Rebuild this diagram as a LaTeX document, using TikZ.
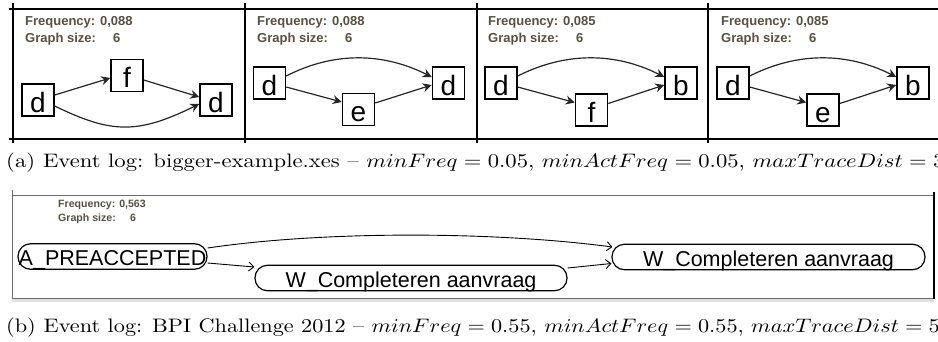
\RequirePackage{fix-cm}
\documentclass[tikz,border=0pt]{standalone}
\usepackage{fontspec}
\usetikzlibrary{arrows.meta,calc}
\newfontfamily\arialf{Liberation Sans}
\definecolor{infocol}{RGB}{88,80,66}
\definecolor{framegray}{RGB}{110,110,110}
\tikzset{
  actbox/.style={draw, line width=1.5, minimum width=32, minimum height=32, inner sep=0,
    text height=24, text depth=0, font=\arialf\fontsize{28}{28}\selectfont},
  conn/.style={draw=black!85, line width=1.2, -{Stealth[length=9, width=9, inset=3]}},
  infotxt/.style={anchor=base west, inner sep=0, text=infocol, font=\arialf\bfseries\fontsize{13}{13}\selectfont},
  sinfotxt/.style={anchor=base west, inner sep=0, text=infocol, font=\arialf\bfseries\fontsize{10.6}{11}\selectfont},
  pillbox/.style={draw, line width=1.2, rounded corners=12.5, minimum height=25.5, inner sep=0,
    text height=18, text depth=0, font=\arialf\fontsize{21.5}{22}\selectfont},
  bconn/.style={draw, line width=0.9, -{Straight Barb[length=5, width=9]}},
  captext/.style={anchor=base west, inner sep=0, font=\fontsize{10}{12}\selectfont},
  frameline/.style={line width=2}
}
\begin{document}
\begin{tikzpicture}[x=1pt,y=-1pt]
\useasboundingbox (0,0) rectangle (938,341);
\clip (0,0) rectangle (938,341);
% top frame
\draw[frameline] (9,9) -- (940,9);
\draw[frameline] (9,139) -- (940,139);
\foreach \xx in {13,245,477,708} {\draw[frameline] (\xx,3) -- (\xx,143);}
% panel 1
\node[infotxt] (f1) at (25,25) {Frequency: 0,088};
\node[infotxt] (g1) at (25,42) {Graph size:};
\node[infotxt] (n1) at (113,42) {6};
\node[actbox] (p1a) at (38,100) {d};
\node[actbox] (p1b) at (127,75.5) {f};
\node[actbox] (p1c) at (216,100) {d};
\draw[conn] ($(p1a.east)+(0,-5)$) -- ($(p1b.west)+(0,2.5)$);
\draw[conn] ($(p1b.east)+(0,4.5)$) -- ($(p1c.west)+(0,-3)$);
\draw[conn] ($(p1a.east)+(0,6)$) .. controls (112,134) and (138,134) .. ($(p1c.west)+(0,4)$);
% panel 2
\node[infotxt] (f2) at (257,25) {Frequency: 0,088};
\node[infotxt] (g2) at (257,42) {Graph size:};
\node[infotxt] (n2) at (345,42) {6};
\node[actbox] (p2a) at (269.5,83) {d};
\node[actbox] (p2b) at (358.5,109.5) {e};
\node[actbox] (p2c) at (448.5,83) {d};
\draw[conn] ($(p2a.east)+(0,4)$) -- ($(p2b.west)+(0,-7.5)$);
\draw[conn] ($(p2b.east)+(0,-6.5)$) -- ($(p2c.west)+(0,2)$);
\draw[conn] ($(p2a.east)+(0,-7)$) .. controls (333,52) and (382,52) .. ($(p2c.west)+(0,-6)$);
% panel 3
\node[infotxt] (f3) at (488,25) {Frequency: 0,085};
\node[infotxt] (g3) at (488,42) {Graph size:};
\node[infotxt] (n3) at (576,42) {6};
\node[actbox] (p3a) at (501,83) {d};
\node[actbox] (p3b) at (591.5,110) {f};
\node[actbox] (p3c) at (681,83) {b};
\draw[conn] ($(p3a.east)+(0,4)$) -- ($(p3b.west)+(0,-7.5)$);
\draw[conn] ($(p3b.east)+(0,-6.5)$) -- ($(p3c.west)+(0,2)$);
\draw[conn] ($(p3a.east)+(0,-7)$) .. controls (565,52) and (615,52) .. ($(p3c.west)+(0,-6)$);
% panel 4
\node[infotxt] (f4) at (721,25) {Frequency: 0,085};
\node[infotxt] (g4) at (721,42) {Graph size:};
\node[infotxt] (n4) at (809,42) {6};
\node[actbox] (p4a) at (733,83) {d};
\node[actbox] (p4b) at (823,110) {e};
\node[actbox] (p4c) at (913,83) {b};
\draw[conn] ($(p4a.east)+(0,4)$) -- ($(p4b.west)+(0,-7.5)$);
\draw[conn] ($(p4b.east)+(0,-6.5)$) -- ($(p4c.west)+(0,2)$);
\draw[conn] ($(p4a.east)+(0,-7)$) .. controls (797,52) and (847,52) .. ($(p4c.west)+(0,-6)$);
% caption a
\node[captext] (capa) at (6,167) {\scalebox{2.265}[1.95]{(a)\hspace{3.5pt}Event log: bigger-example.xes -- $minFreq=0.05$, $minActFreq=0.05$, $maxTraceDist=3$}};
% bottom panel
\fill[black!12] (12,298) rectangle (934,302);
\draw[framegray, line width=1] (12,190) -- (12,298) -- (934,298);
\draw[framegray, line width=1] (12,195) -- (934,195);
\draw[line width=1.5] (934,192) -- (934,299);
\node[sinfotxt] (f5) at (58,207) {Frequency: 0,563};
\node[sinfotxt] (g5) at (58,221) {Graph size:};
\node[sinfotxt] (n5) at (130,221) {6};
\node[pillbox, minimum width=189] (qa) at (112.5,256.5) {A\_PREACCEPTED};
\node[pillbox, minimum width=312] (qb) at (411,278) {W\_Completeren aanvraag};
\node[pillbox, minimum width=313] (qc) at (768.5,257) {W\_Completeren aanvraag};
\draw[bconn] ($(qa.east)+(0,6.5)$) -- ($(qb.west)+(0,-11)$);
\draw[bconn] ($(qa.east)+(0,-8.5)$) .. controls (330,230) and (500,232) .. ($(qc.west)+(1,-10)$);
\draw[bconn] ($(qb.east)+(0,-10)$) -- ($(qc.west)+(0,6.5)$);
% caption b
\node[captext] (capb) at (6,332.5) {\scalebox{2.226}[1.95]{(b)\hspace{3.5pt}Event log: BPI Challenge 2012 -- $minFreq=0.55$, $minActFreq=0.55$, $maxTraceDist=5$}};
\end{tikzpicture}
\end{document}
